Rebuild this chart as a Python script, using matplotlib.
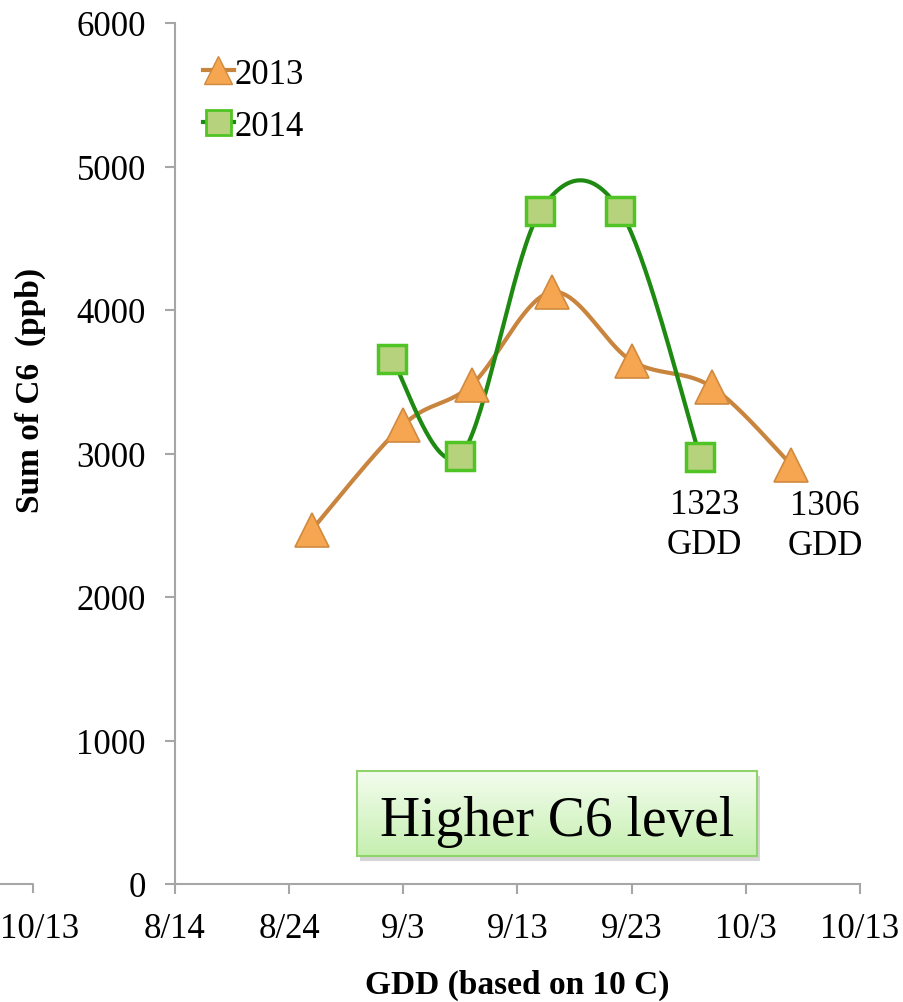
import numpy as np
import matplotlib.pyplot as plt
from matplotlib.patches import Rectangle
from matplotlib.lines import Line2D
from matplotlib.colors import LinearSegmentedColormap
from datetime import date

plt.rcParams['font.family'] = ['Liberation Serif', 'DejaVu Serif']

# datele
start = date(2014, 8, 14)
tick_labels = ['8/14', '8/24', '9/3', '9/13', '9/23', '10/3', '10/13']
dates_2013 = ['8/26', '9/3', '9/9', '9/16', '9/23', '9/30', '10/7']
c6_2013 = [2470, 3200, 3480, 4125, 3645, 3465, 2920]
dates_2014 = ['9/2', '9/8', '9/15', '9/22', '9/29']
c6_2014 = [3660, 2985, 4690, 4690, 2975]


def to_day(s):
    m, d = s.split('/')
    return (date(2014, int(m), int(d)) - start).days


x13 = np.array([to_day(s) for s in dates_2013], float)
x14 = np.array([to_day(s) for s in dates_2014], float)
xt = [to_day(s) for s in tick_labels]

fig = plt.figure(figsize=(9.04, 10.03), dpi=100)
ax = fig.add_axes([175 / 904, 1 - 885 / 1003, 685 / 904, 861 / 1003])
ax.set_xlim(0, 60)
ax.set_ylim(0, 6000)
ax.patch.set_alpha(0)


# linie netezita ca in Excel (Bezier cu 1/6 din vecini, in pixeli)
def smooth(xs, ys, n=40):
    P = ax.transData.transform(np.column_stack([xs, ys]))
    Pe = np.vstack([P[0], P, P[-1]])
    out = []
    for i in range(len(P) - 1):
        p0 = Pe[i + 1]
        p3 = Pe[i + 2]
        p1 = p0 + (Pe[i + 2] - Pe[i]) / 6
        p2 = p3 - (Pe[i + 3] - Pe[i + 1]) / 6
        t = np.linspace(0, 1, n)[:, None]
        seg = (1 - t) ** 3 * p0 + 3 * (1 - t) ** 2 * t * p1 + 3 * (1 - t) * t ** 2 * p2 + t ** 3 * p3
        out.append(seg)
    pts = ax.transData.inverted().transform(np.vstack(out))
    return pts[:, 0], pts[:, 1]


orange_line = '#c9843d'
orange_fill = '#f6a550'
orange_edge = '#d08a40'
green_line = '#1e8a12'
green_fill = '#b7d27c'
green_edge = '#4fc424'

sx, sy = smooth(x13, c6_2013)
ax.plot(sx, sy, color=orange_line, lw=3, zorder=2)
ax.plot(x13, c6_2013, ls='none', marker='^', ms=24, mfc=orange_fill, mec=orange_edge, mew=1.2, zorder=4)

sx, sy = smooth(x14, c6_2014)
ax.plot(sx, sy, color=green_line, lw=3, zorder=3)
ax.plot(x14, c6_2014, ls='none', marker='s', ms=20, mfc=green_fill, mec=green_edge, mew=2.5, zorder=5)

# axe
for s in ['top', 'right']:
    ax.spines[s].set_visible(False)
for s in ['left', 'bottom']:
    ax.spines[s].set_color('#a6a6a6')
    ax.spines[s].set_linewidth(1.5)
ax.set_xticks(xt)
ax.set_xticklabels(tick_labels)
ax.set_yticks(range(0, 6001, 1000))
ax.tick_params(axis='both', direction='out', length=7, width=1.5, color='#a6a6a6', labelsize=25)
ax.tick_params(axis='y', pad=14)
ax.tick_params(axis='x', pad=13)

# legenda
h13 = Line2D([], [], color=orange_line, lw=3, marker='^', ms=20, mfc=orange_fill, mec=orange_edge)
h14 = Line2D([], [], color=green_line, lw=3, marker='s', ms=18, mfc=green_fill, mec=green_edge, mew=2)
ax.legend([h13, h14], ['2013', '2014'], loc='upper left', bbox_to_anchor=(0.02, 0.976), frameon=False,
          fontsize=25, handlelength=0.9, handletextpad=0.02, labelspacing=0.55, borderaxespad=0)

# etichete GDD
ax.annotate('1323\nGDD', xy=(x14[-1], c6_2014[-1]), xytext=(3, -22), textcoords='offset points',
            ha='center', va='top', fontsize=25, linespacing=1.3)
ax.annotate('1306\nGDD', xy=(x13[-1], c6_2013[-1]), xytext=(24, -17), textcoords='offset points',
            ha='center', va='top', fontsize=25, linespacing=1.3)

# caseta "Higher C6 level"
bx0, bx1, by0, by1 = 357 / 904, 757 / 904, 1 - 857 / 1003, 1 - 772 / 1003
fig.add_artist(Rectangle((bx0 + 3 / 904, by0 - 5 / 1003), bx1 - bx0, by1 - by0, transform=fig.transFigure,
                         facecolor='#c4c4c4', edgecolor='none', alpha=0.7, zorder=4))
bax = fig.add_axes([bx0, by0, bx1 - bx0, by1 - by0])
bax.set_zorder(5)
grad = np.linspace(0, 1, 100)[:, None]
bax.imshow(grad, aspect='auto', extent=[0, 1, 0, 1], origin='lower',
           cmap=LinearSegmentedColormap.from_list('g', ['#c6efb0', '#f3fdee']))
for s in bax.spines.values():
    s.set_color('#8fd36a')
    s.set_linewidth(1.5)
bax.set_xticks([])
bax.set_yticks([])
bax.text(0.5, 0.41, 'Higher C6 level', ha='center', va='center', fontsize=40, transform=bax.transAxes)

# titluri axe
fig.text(30 / 904, 1 - 390 / 1003, 'Sum of C6  (ppb)', rotation=90, ha='center', va='center',
         fontsize=24, fontweight='bold')
fig.text(517 / 904, 1 - 985 / 1003, 'GDD (based on 10 C)', ha='center', va='center',
         fontsize=24, fontweight='bold')

# bucata din graficul vecin, la stanga
fig.add_artist(Line2D([0, 33 / 904, 33 / 904], [1 - 885 / 1003, 1 - 885 / 1003, 1 - 893 / 1003],
                      transform=fig.transFigure, color='#a6a6a6', lw=1.5))
fig.text(0, 1 - 930 / 1003, '10/13', ha='left', va='center', fontsize=25)

fig.savefig('out.png', dpi=100)
